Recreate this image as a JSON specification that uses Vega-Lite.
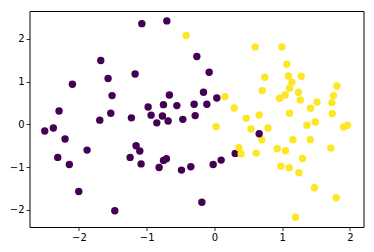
{
  "$schema": "https://vega.github.io/schema/vega-lite/v6.json",
  "autosize": "none",
  "padding": {"left": 29.5, "top": 11, "right": 10.5, "bottom": 25},
  "width": 334,
  "height": 216,
  "background": "white",
  "config": {
    "view": {"stroke": "#000", "strokeWidth": 1},
    "axis": {
      "domain": false, "grid": false, "ticks": true, "tickSize": 3.5, "tickWidth": 0.8, "tickColor": "#000",
      "labelFont": "DejaVu Sans", "labelFontSize": 10, "labelColor": "#000", "labelPadding": 2, "title": null
    }
  },
  "data": {"values": [
    {"x": -1.072, "y": 2.354, "c": "0"},
    {"x": -0.703, "y": 2.419, "c": "0"},
    {"x": -1.678, "y": 1.492, "c": "0"},
    {"x": -1.171, "y": 1.178, "c": "0"},
    {"x": -1.570, "y": 1.070, "c": "0"},
    {"x": -2.097, "y": 0.937, "c": "0"},
    {"x": -1.511, "y": 0.672, "c": "0"},
    {"x": -2.294, "y": 0.311, "c": "0"},
    {"x": -1.530, "y": 0.258, "c": "0"},
    {"x": -1.226, "y": 0.152, "c": "0"},
    {"x": -1.693, "y": 0.098, "c": "0"},
    {"x": -0.260, "y": 1.585, "c": "0"},
    {"x": -0.078, "y": 1.218, "c": "0"},
    {"x": -0.665, "y": 0.686, "c": "0"},
    {"x": -0.162, "y": 0.749, "c": "0"},
    {"x": 0.035, "y": 0.616, "c": "0"},
    {"x": -0.979, "y": 0.405, "c": "0"},
    {"x": -0.753, "y": 0.461, "c": "0"},
    {"x": -0.555, "y": 0.438, "c": "0"},
    {"x": -0.300, "y": 0.468, "c": "0"},
    {"x": -0.112, "y": 0.468, "c": "0"},
    {"x": -0.935, "y": 0.215, "c": "0"},
    {"x": -0.768, "y": 0.194, "c": "0"},
    {"x": -0.684, "y": 0.077, "c": "0"},
    {"x": -0.467, "y": 0.117, "c": "0"},
    {"x": -0.285, "y": 0.204, "c": "0"},
    {"x": -0.851, "y": 0.035, "c": "0"},
    {"x": -2.505, "y": -0.157, "c": "0"},
    {"x": -2.378, "y": -0.087, "c": "0"},
    {"x": -2.205, "y": -0.344, "c": "0"},
    {"x": -1.880, "y": -0.602, "c": "0"},
    {"x": -1.157, "y": -0.499, "c": "0"},
    {"x": -1.102, "y": -0.625, "c": "0"},
    {"x": -2.313, "y": -0.773, "c": "0"},
    {"x": -1.245, "y": -0.773, "c": "0"},
    {"x": -2.142, "y": -0.937, "c": "0"},
    {"x": -1.083, "y": -0.925, "c": "0"},
    {"x": -2.003, "y": -1.569, "c": "0"},
    {"x": -1.471, "y": -2.021, "c": "0"},
    {"x": -0.753, "y": -0.843, "c": "0"},
    {"x": -0.709, "y": -0.803, "c": "0"},
    {"x": -0.817, "y": -1.007, "c": "0"},
    {"x": -0.487, "y": -1.070, "c": "0"},
    {"x": -0.349, "y": -0.991, "c": "0"},
    {"x": -0.019, "y": -0.937, "c": "0"},
    {"x": 0.099, "y": -0.836, "c": "0"},
    {"x": 0.306, "y": -0.679, "c": "0"},
    {"x": -0.186, "y": -1.820, "c": "0"},
    {"x": -0.418, "y": 2.077, "c": "1"},
    {"x": 0.601, "y": 1.810, "c": "1"},
    {"x": 0.996, "y": 1.810, "c": "1"},
    {"x": 1.069, "y": 1.405, "c": "1"},
    {"x": 0.744, "y": 1.101, "c": "1"},
    {"x": 1.093, "y": 1.131, "c": "1"},
    {"x": 1.281, "y": 1.124, "c": "1"},
    {"x": 1.143, "y": 0.984, "c": "1"},
    {"x": 0.705, "y": 0.789, "c": "1"},
    {"x": 1.108, "y": 0.843, "c": "1"},
    {"x": 1.808, "y": 0.897, "c": "1"},
    {"x": 1.241, "y": 0.749, "c": "1"},
    {"x": 1.044, "y": 0.686, "c": "1"},
    {"x": 0.960, "y": 0.609, "c": "1"},
    {"x": 1.758, "y": 0.672, "c": "1"},
    {"x": 1.266, "y": 0.569, "c": "1"},
    {"x": 1.513, "y": 0.522, "c": "1"},
    {"x": 1.734, "y": 0.508, "c": "1"},
    {"x": 1.418, "y": 0.375, "c": "1"},
    {"x": 0.660, "y": 0.218, "c": "1"},
    {"x": 1.108, "y": 0.258, "c": "1"},
    {"x": 1.739, "y": 0.251, "c": "1"},
    {"x": 1.487, "y": 0.054, "c": "1"},
    {"x": 1.365, "y": -0.023, "c": "1"},
    {"x": 1.905, "y": -0.063, "c": "1"},
    {"x": 1.965, "y": -0.023, "c": "1"},
    {"x": 0.154, "y": 0.649, "c": "1"},
    {"x": 0.291, "y": 0.382, "c": "1"},
    {"x": 0.468, "y": 0.141, "c": "1"},
    {"x": 0.025, "y": -0.054, "c": "1"},
    {"x": 0.538, "y": -0.110, "c": "1"},
    {"x": 0.789, "y": -0.087, "c": "1"},
    {"x": 0.700, "y": -0.358, "c": "1"},
    {"x": 0.616, "y": -0.672, "c": "1"},
    {"x": 0.360, "y": -0.546, "c": "1"},
    {"x": 0.394, "y": -0.686, "c": "1"},
    {"x": 1.158, "y": -0.358, "c": "1"},
    {"x": 1.414, "y": -0.358, "c": "1"},
    {"x": 0.926, "y": -0.569, "c": "1"},
    {"x": 1.049, "y": -0.616, "c": "1"},
    {"x": 1.719, "y": -0.555, "c": "1"},
    {"x": 1.300, "y": -0.796, "c": "1"},
    {"x": 0.981, "y": -0.977, "c": "1"},
    {"x": 1.103, "y": -1.014, "c": "1"},
    {"x": 1.247, "y": -1.131, "c": "1"},
    {"x": 1.477, "y": -1.482, "c": "1"},
    {"x": 1.798, "y": -1.717, "c": "1"},
    {"x": 1.196, "y": -2.171, "c": "1"},
    {"x": 0.660, "y": -0.218, "c": "0"}
  ]},
  "mark": {"type": "circle", "size": 55, "opacity": 1},
  "encoding": {
    "x": {"field": "x", "type": "quantitative", "scale": {"domain": [-2.73, 2.2], "nice": false, "zero": false},
          "axis": {"values": [-2, -1, 0, 1, 2]}},
    "y": {"field": "y", "type": "quantitative", "scale": {"domain": [-2.4, 2.65], "nice": false, "zero": false},
          "axis": {"values": [-2, -1, 0, 1, 2]}},
    "color": {"field": "c", "type": "nominal", "scale": {"domain": ["0", "1"], "range": ["#440154", "#fde725"]}, "legend": null}
  }
}
